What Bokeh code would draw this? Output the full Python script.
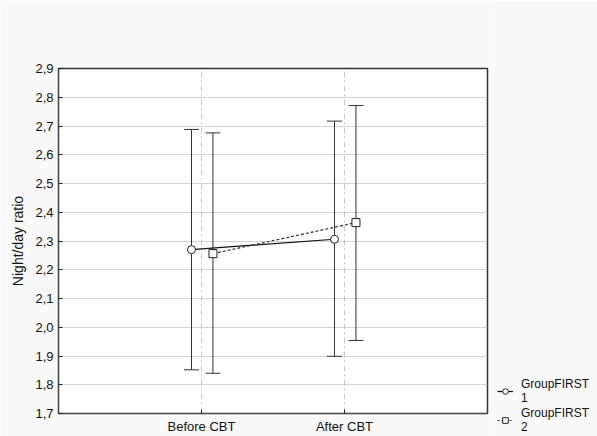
from bokeh.plotting import figure
from bokeh.layouts import row, column
from bokeh.models import (Whisker, TeeHead, ColumnDataSource, FixedTicker,
                          CustomJSTickFormatter, Legend, LegendItem, Range1d)
from bokeh.embed import file_html
from bokeh.resources import INLINE

# ---- data ----
categories = ["Before CBT", "After CBT"]
cat_pos = [1, 2]
g1_label = "GroupFIRST\n1"
g2_label = "GroupFIRST\n2"
g1_mean = [2.270, 2.306]
g1_low = [1.852, 1.899]
g1_high = [2.688, 2.717]
g2_mean = [2.256, 2.364]
g2_low = [1.840, 1.954]
g2_high = [2.676, 2.771]
y_ticks = [1.7, 1.8, 1.9, 2.0, 2.1, 2.2, 2.3, 2.4, 2.5, 2.6, 2.7, 2.8, 2.9]

FONT = "Liberation Sans"
BG = "#f9f9f9"
off1, off2 = -0.07, 0.08

p = figure(width=489, height=436, output_backend="svg", toolbar_location=None,
           x_range=Range1d(0, 3), y_range=Range1d(1.7, 2.9),
           min_border_left=58, min_border_right=2, min_border_top=68, min_border_bottom=15)
p.background_fill_color = "white"
p.border_fill_color = BG
p.outline_line_color = "#333333"
p.outline_line_width = 1.5

# axes
p.xaxis.ticker = FixedTicker(ticks=cat_pos)
p.xaxis.major_label_overrides = {cp: c for cp, c in zip(cat_pos, categories)}
p.yaxis.ticker = FixedTicker(ticks=y_ticks)
p.yaxis.formatter = CustomJSTickFormatter(code="return tick.toFixed(1).replace('.', ',');")
p.yaxis.axis_label = "Night/day ratio"
for ax in (p.xaxis[0], p.yaxis[0]):
    ax.major_tick_in = 4
    ax.major_tick_out = 0
    ax.minor_tick_line_color = None
    ax.major_label_text_font = FONT
    ax.major_label_text_font_size = "13px"
    ax.major_label_text_color = "#111111"
    ax.axis_line_color = "#444444"
    ax.major_tick_line_color = "#222222"
p.xaxis.major_label_standoff = 5
p.yaxis.major_label_standoff = 5
p.yaxis.axis_label_text_font = FONT
p.yaxis.axis_label_text_font_size = "14px"
p.yaxis.axis_label_text_font_style = "normal"
p.yaxis.axis_label_text_color = "#111111"
p.yaxis.axis_label_standoff = 6

# grids
p.ygrid.grid_line_color = "#aaaaaa"
p.ygrid.grid_line_dash = "1 1"
p.xgrid.grid_line_color = "#c8c8c8"
p.xgrid.grid_line_dash = "6 3 2 3"

x1 = [c + off1 for c in cat_pos]
x2 = [c + off2 for c in cat_pos]
s1 = ColumnDataSource(dict(x=x1, m=g1_mean, lo=g1_low, hi=g1_high))
s2 = ColumnDataSource(dict(x=x2, m=g2_mean, lo=g2_low, hi=g2_high))

for s in (s1, s2):
    w = Whisker(source=s, base="x", lower="lo", upper="hi", dimension="height",
                line_color="#333333", line_width=1,
                upper_head=TeeHead(size=15, line_color="#333333", line_width=1),
                lower_head=TeeHead(size=15, line_color="#333333", line_width=1))
    p.add_layout(w)

line1 = dict(line_color="#111111", line_width=1.2)
line2 = dict(line_color="#333333", line_width=1.2, line_dash="3 2")
mk1 = dict(marker="circle", size=8, fill_color="white", line_color="#222222", line_width=1)
mk2 = dict(marker="square", size=8, fill_color="white", line_color="#222222", line_width=1)

p.line("x", "m", source=s1, **line1)
p.line("x", "m", source=s2, **line2)
p.scatter("x", "m", source=s1, **mk1)
p.scatter("x", "m", source=s2, **mk2)

# ---- legend panel (separate figure so it is not clipped by the main frame) ----
# its ranges keep the data out of view: only the legend is seen here
lf = figure(width=108, height=436, output_backend="svg", toolbar_location=None,
            x_range=Range1d(10, 11), y_range=Range1d(10, 11),
            min_border=0, x_axis_type=None, y_axis_type=None)
lf.background_fill_color = BG
lf.border_fill_color = BG
lf.outline_line_color = None
lf.grid.visible = False
r_l1 = lf.line("x", "m", source=s1, **line1)
r_m1 = lf.scatter("x", "m", source=s1, **mk1)
r_l2 = lf.line("x", "m", source=s2, **{**line2, "line_dash": "2 2"})
r_m2 = lf.scatter("x", "m", source=s2, **mk2)

legend = Legend(items=[LegendItem(label=g1_label, renderers=[r_l1, r_m1]),
                       LegendItem(label=g2_label, renderers=[r_l2, r_m2])],
                location=(8, 2), background_fill_alpha=0, border_line_color=None,
                padding=0, margin=0, spacing=1, glyph_width=16, glyph_height=14,
                label_text_font=FONT, label_text_font_size="12px",
                label_text_color="#111111", label_standoff=8, label_height=14)
lf.add_layout(legend)

open("out.html", "w").write(file_html(row(p, column(lf)), INLINE))
